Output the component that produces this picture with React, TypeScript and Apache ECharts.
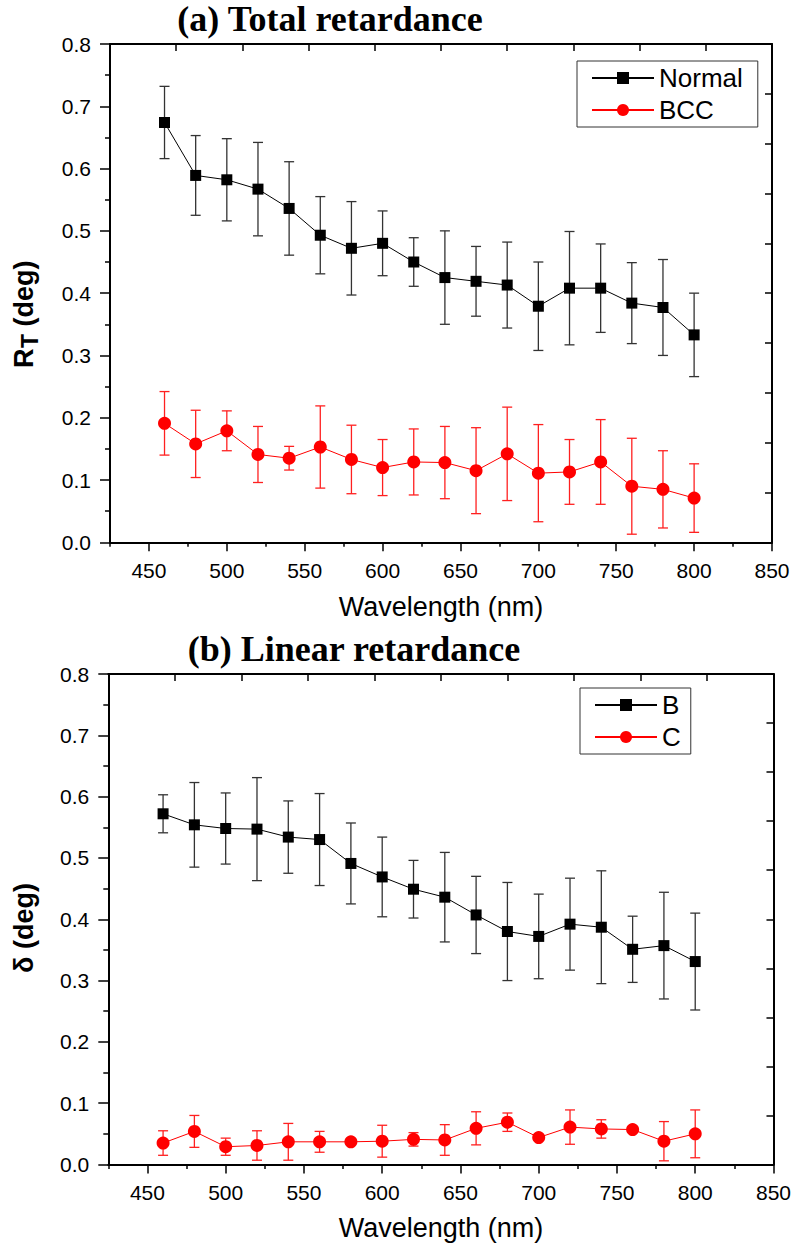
import React, { useEffect, useRef } from "react";
import * as echarts from "echarts";

const wavelengths = [460, 480, 500, 520, 540, 560, 580, 600, 620, 640, 660, 680, 700, 720, 740, 760, 780, 800];

// (a) Total retardance
const normalMean = [0.674, 0.589, 0.582, 0.567, 0.536, 0.493, 0.472, 0.480, 0.450, 0.425, 0.419, 0.413, 0.379, 0.408, 0.408, 0.384, 0.377, 0.333];
const normalSd = [0.058, 0.064, 0.066, 0.075, 0.075, 0.062, 0.075, 0.052, 0.039, 0.075, 0.056, 0.069, 0.071, 0.091, 0.071, 0.065, 0.077, 0.067];
const bccMean = [0.191, 0.158, 0.179, 0.141, 0.135, 0.153, 0.133, 0.120, 0.129, 0.128, 0.115, 0.142, 0.111, 0.113, 0.129, 0.090, 0.085, 0.071];
const bccSd = [0.051, 0.054, 0.032, 0.045, 0.019, 0.066, 0.055, 0.045, 0.053, 0.058, 0.069, 0.075, 0.078, 0.052, 0.068, 0.077, 0.062, 0.055];

// (b) Linear retardance
const bMean = [0.572, 0.554, 0.548, 0.547, 0.534, 0.530, 0.491, 0.469, 0.449, 0.436, 0.407, 0.380, 0.372, 0.392, 0.387, 0.351, 0.357, 0.331];
const bSd = [0.031, 0.069, 0.058, 0.084, 0.059, 0.075, 0.066, 0.065, 0.047, 0.073, 0.063, 0.080, 0.069, 0.075, 0.092, 0.054, 0.087, 0.079];
const cMean = [0.035, 0.054, 0.029, 0.031, 0.037, 0.037, 0.037, 0.038, 0.041, 0.040, 0.059, 0.069, 0.044, 0.061, 0.058, 0.057, 0.038, 0.050];
const cSd = [0.020, 0.026, 0.014, 0.024, 0.030, 0.017, 0.004, 0.026, 0.011, 0.025, 0.027, 0.015, 0.004, 0.028, 0.015, 0.004, 0.032, 0.039];

const xMajorTicks = [450, 500, 550, 600, 650, 700, 750, 800, 850];
const xMinorTicks = [425, 475, 525, 575, 625, 675, 725, 775, 825];
const titles = ["(a) Total retardance", "(b) Linear retardance"];
const legendNames = [["Normal", "BCC"], ["B", "C"]];
const xName = "Wavelength (nm)";

const SANS = '"Liberation Sans", Arial, sans-serif';
const SERIF = '"Liberation Serif", "Times New Roman", serif';

const grids = [
  { left: 110, top: 44, width: 662, height: 498.3, labelMargin: 18 },
  { left: 108.3, top: 674, width: 670, height: 490.5, labelMargin: 17 },
];

function errBarSeries(name: string, mean: number[], sd: number[], color: string, gi: number) {
  return {
    type: "custom",
    name: name + " err",
    xAxisIndex: gi * 3,
    yAxisIndex: gi * 2,
    z: 1,
    silent: true,
    dimensions: ["x", "lo", "hi"],
    encode: { x: 0, y: [1, 2] },
    data: wavelengths.map((w, i) => [w, mean[i] - sd[i], mean[i] + sd[i]]),
    renderItem: (params: any, api: any) => {
      const x = api.value(0);
      const top = api.coord([x, api.value(2)]);
      const bot = api.coord([x, api.value(1)]);
      const hw = 5;
      const style = { stroke: color, lineWidth: 1.3 };
      return {
        type: "group",
        children: [
          { type: "line", shape: { x1: top[0], y1: top[1], x2: bot[0], y2: bot[1] }, style },
          { type: "line", shape: { x1: top[0] - hw, y1: top[1], x2: top[0] + hw, y2: top[1] }, style },
          { type: "line", shape: { x1: bot[0] - hw, y1: bot[1], x2: bot[0] + hw, y2: bot[1] }, style },
        ],
      };
    },
  };
}

function lineSeries(name: string, mean: number[], color: string, symbol: string, size: number, gi: number) {
  return {
    type: "line",
    name,
    xAxisIndex: gi * 3,
    yAxisIndex: gi * 2,
    z: 3,
    symbol,
    symbolSize: size,
    showAllSymbol: true,
    lineStyle: { color, width: 1 },
    itemStyle: { color },
    data: wavelengths.map((w, i) => [w, mean[i]]),
  };
}

export default function App() {
  const ref = useRef<HTMLDivElement>(null);
  useEffect(() => {
    if (!ref.current) return;
    const chart = echarts.init(ref.current, null, { renderer: "svg" });
    const axisLine = { show: true, lineStyle: { color: "#000", width: 2 } };
    const tickStyle = { color: "#000", width: 1.5 };

    const xAxes: any[] = [];
    const yAxes: any[] = [];
    grids.forEach((g, gi) => {
      xAxes.push({
        type: "value",
        gridIndex: gi,
        position: "bottom",
        min: 425,
        max: 850,
        interval: 25,
        axisLine,
        splitLine: { show: false },
        axisTick: { show: true, inside: false, length: 9, lineStyle: tickStyle, customValues: xMajorTicks },
        axisLabel: {
          show: true,
          customValues: xMajorTicks,
          margin: g.labelMargin,
          color: "#000",
          fontSize: 21,
          fontFamily: SANS,
          formatter: (v: number) => String(v),
        },
      });
      xAxes.push({
        type: "value",
        gridIndex: gi,
        position: "bottom",
        min: 425,
        max: 850,
        interval: 25,
        axisLine: { show: false },
        splitLine: { show: false },
        axisLabel: { show: false },
        axisTick: { show: true, inside: false, length: 4.5, lineStyle: tickStyle, customValues: xMinorTicks },
      });
      xAxes.push({
        type: "value",
        gridIndex: gi,
        position: "top",
        min: 0,
        max: 10,
        interval: 1,
        axisLine,
        splitLine: { show: false },
        axisLabel: { show: false },
        axisTick: { show: true, inside: true, length: 7, lineStyle: tickStyle },
      });
      yAxes.push({
        type: "value",
        gridIndex: gi,
        position: "left",
        min: 0,
        max: 0.8,
        interval: 0.1,
        axisLine,
        splitLine: { show: false },
        axisTick: { show: true, inside: false, length: 10, lineStyle: tickStyle },
        minorTick: { show: true, splitNumber: 2, length: 5, lineStyle: tickStyle },
        minorSplitLine: { show: false },
        axisLabel: {
          margin: 19,
          color: "#000",
          fontSize: 21,
          fontFamily: SANS,
          formatter: (v: number) => v.toFixed(1),
        },
      });
      yAxes.push({
        type: "value",
        gridIndex: gi,
        position: "right",
        min: 0,
        max: 10,
        interval: 1,
        axisLine,
        splitLine: { show: false },
        axisLabel: { show: false },
        axisTick: { show: true, inside: true, length: 7, lineStyle: tickStyle },
      });
    });

    const legendCommon = {
      orient: "vertical",
      itemWidth: 62,
      itemHeight: 15,
      itemGap: 6,
      borderColor: "#333",
      borderWidth: 1,
      backgroundColor: "#fff",
      textStyle: { fontSize: 26, fontFamily: SANS, color: "#000" },
      selectedMode: false,
    };

    const yLabelGroup = (cy: number, parts: any[]) => ({
      type: "group",
      x: 24,
      y: cy,
      rotation: Math.PI / 2,
      children: parts,
    });

    const option: any = {
      animation: false,
      backgroundColor: "#fff",
      grid: grids.map((g) => ({ left: g.left, top: g.top, width: g.width, height: g.height, containLabel: false })),
      xAxis: xAxes,
      yAxis: yAxes,
      legend: [
        { ...legendCommon, data: legendNames[0], left: 577, top: 61, padding: [4, 15, 4, 14] },
        { ...legendCommon, data: legendNames[1], left: 580, top: 688, padding: [4, 10, 4, 14] },
      ],
      graphic: [
        {
          type: "text",
          x: 330,
          y: 19,
          style: { text: titles[0], font: `bold 36px ${SERIF}`, fill: "#000", textAlign: "center", textVerticalAlign: "middle", align: "center", verticalAlign: "middle" },
        },
        {
          type: "text",
          x: 354,
          y: 649,
          style: { text: titles[1], font: `bold 36px ${SERIF}`, fill: "#000", textAlign: "center", textVerticalAlign: "middle", align: "center", verticalAlign: "middle" },
        },
        {
          type: "text",
          x: 441,
          y: 607,
          style: { text: xName, font: `27px ${SANS}`, fill: "#000", textAlign: "center", textVerticalAlign: "middle", align: "center", verticalAlign: "middle" },
        },
        {
          type: "text",
          x: 441,
          y: 1228,
          style: { text: xName, font: `27px ${SANS}`, fill: "#000", textAlign: "center", textVerticalAlign: "middle", align: "center", verticalAlign: "middle" },
        },
        yLabelGroup(315, [
          { type: "text", x: -53, y: 0, style: { text: "R", font: `bold 27px ${SANS}`, fill: "#000", textAlign: "left", textVerticalAlign: "middle", align: "left", verticalAlign: "middle" } },
          { type: "text", x: -33, y: 6, style: { text: "T", font: `bold 23px ${SANS}`, fill: "#000", textAlign: "left", textVerticalAlign: "middle", align: "left", verticalAlign: "middle" } },
          { type: "text", x: -19, y: 0, style: { text: " (deg)", font: `bold 27px ${SANS}`, fill: "#000", textAlign: "left", textVerticalAlign: "middle", align: "left", verticalAlign: "middle" } },
        ]),
        yLabelGroup(928, [
          { type: "text", x: 0, y: 0, style: { text: "δ (deg)", font: `bold 27px ${SANS}`, fill: "#000", textAlign: "center", textVerticalAlign: "middle", align: "center", verticalAlign: "middle" } },
        ]),
      ],
      series: [
        errBarSeries("Normal", normalMean, normalSd, "#333", 0),
        errBarSeries("BCC", bccMean, bccSd, "#ff2020", 0),
        lineSeries("Normal", normalMean, "#000", "rect", 11, 0),
        lineSeries("BCC", bccMean, "#ff0000", "circle", 13, 0),
        errBarSeries("B", bMean, bSd, "#333", 1),
        errBarSeries("C", cMean, cSd, "#ff2020", 1),
        lineSeries("B", bMean, "#000", "rect", 11, 1),
        lineSeries("C", cMean, "#ff0000", "circle", 13, 1),
      ],
    };
    chart.setOption(option);
    return () => chart.dispose();
  }, []);
  return (
    <div
      ref={ref}
      style={{ position: "absolute", left: 0, top: 0, width: 794, height: 1245, background: "#fff" }}
    />
  );
}
